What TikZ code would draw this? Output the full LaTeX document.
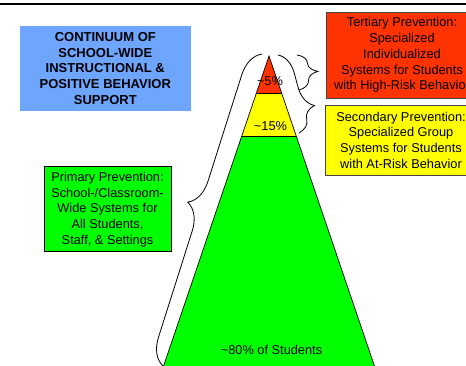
\documentclass[tikz,border=0pt]{standalone}
\usepackage{fontspec}
\setmainfont{Liberation Sans}
\usetikzlibrary{decorations.pathreplacing}
\definecolor{boxblue}{RGB}{110,165,255}
\definecolor{tred}{RGB}{255,51,0}
\definecolor{tyellow}{RGB}{255,255,0}
\definecolor{tgreen}{RGB}{0,255,0}
\definecolor{edgegray}{RGB}{70,70,70}
\begin{document}
\begin{tikzpicture}[x=1pt,y=-1pt,
  txt/.style={font=\fontsize{12.8}{15.7}\selectfont, align=center, inner sep=0pt},
  infobox/.style={txt, draw=edgegray, line width=0.9pt},
  bracestyle/.style={draw=black, line width=0.8pt, decorate, decoration={brace, amplitude=#1pt}},
  triline/.style={draw=black, line width=0.7pt}
]
\useasboundingbox (0,0) rectangle (466,365);
\clip (0,0) rectangle (466,365);
% top rule
\coordinate (ruleL) at (0,3.7);
\coordinate (ruleR) at (466,3.7);
\draw[line width=2pt] (ruleL) -- (ruleR);
% triangle
\coordinate (apex) at (269,56);
\coordinate (r1) at (256.4,93);
\coordinate (r2) at (281.6,93);
\coordinate (y1) at (241.8,136);
\coordinate (y2) at (296.2,136);
\coordinate (g1) at (162.2,370);
\coordinate (g2) at (375.8,370);
\fill[tgreen] (y1) -- (y2) -- (g2) -- (g1) -- cycle;
\fill[tyellow] (r1) -- (r2) -- (y2) -- (y1) -- cycle;
\fill[tred] (apex) -- (r2) -- (r1) -- cycle;
\draw[triline] (g1) -- (apex) -- (g2);
\draw[triline] (r1) -- (r2);
\draw[triline] (y1) -- (y2);
% tier labels
\node[txt] (p5) at (270,81) {\textasciitilde 5\%};
\node[txt] (p15) at (270.5,126) {\textasciitilde 15\%};
\node[txt] (p80) at (271.5,350) {\textasciitilde 80\% of Students};
% boxes
\node[txt, fill=boxblue, minimum width=170.7, minimum height=85,
      font={\fontsize{13}{15.8}\selectfont\bfseries}] (title) at (105.3,68.5)
  {CONTINUUM OF\\SCHOOL-WIDE\\INSTRUCTIONAL \&\\POSITIVE BEHAVIOR\\SUPPORT};
\node[infobox, fill=tred, minimum width=152, minimum height=86] (tert) at (402,55)
  {Tertiary Prevention:\\Specialized\\Individualized\\Systems for Students\\with High-Risk Behavior};
\node[infobox, fill=tyellow, minimum width=152, minimum height=70] (sec) at (401,140)
  {Secondary Prevention:\\Specialized Group\\Systems for Students\\with At-Risk Behavior};
\node[infobox, draw=black, fill=tgreen, minimum width=127, minimum height=85] (prim) at (107.5,209.4)
  {Primary Prevention:\\School-/Classroom-\\Wide Systems for\\All Students,\\Staff, \& Settings};
% braces
\coordinate (cB) at (163,366);
\coordinate (cT) at (262,54);
\draw[bracestyle=26] (cB) -- (cT);
\coordinate (aT) at (297,55);
\coordinate (aB) at (299,90);
\draw[bracestyle=20] (aT) -- (aB);
\coordinate (bT) at (278,55);
\coordinate (bB) at (299,133);
\draw[draw=black, line width=0.8pt, decorate, decoration={brace, amplitude=22pt, aspect=0.72}] (bT) -- (bB);
\end{tikzpicture}
\end{document}
